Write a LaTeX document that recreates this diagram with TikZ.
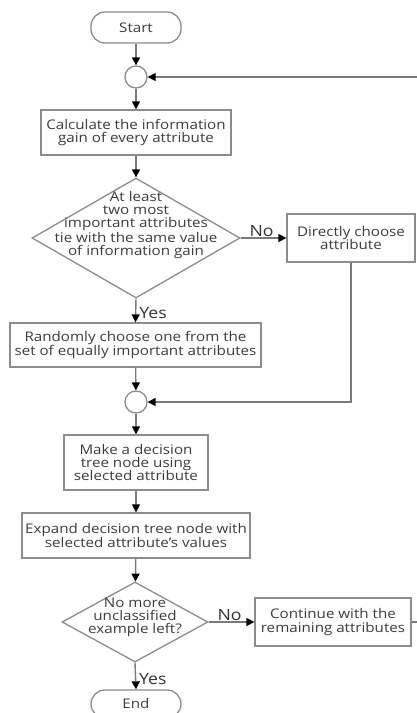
\documentclass[tikz,border=0pt]{standalone}
\usepackage{fontspec}
\setmainfont{Open Sans}[FakeStretch=1.14]
\usetikzlibrary{arrows.meta,shapes.geometric}
\definecolor{boxline}{HTML}{8C8C8C}
\definecolor{txt}{HTML}{3C3C3C}
\definecolor{conn}{HTML}{7A7A7A}
\tikzset{
  base/.style={draw=boxline, line width=1.3pt, text=txt, align=center, inner sep=1pt,
    font=\fontsize{13.3}{13.3}\selectfont},
  proc/.style={base, rectangle},
  term/.style={base, rectangle, rounded corners=14pt},
  junc/.style={base, circle, minimum size=22pt, inner sep=0pt},
  dec/.style={base, diamond, inner sep=0pt},
  dtext/.style={text=txt, align=center, inner sep=0pt, font=\fontsize{13.3}{13.1}\selectfont},
  lbl/.style={text=black!80, inner sep=0pt, font=\fontsize{15.5}{15.5}\selectfont},
  flow/.style={draw=conn, line width=1.4pt, -{Triangle[length=8pt,width=8pt,fill=black,color=black]}},
}
\begin{document}
\begin{tikzpicture}[x=1pt,y=-1pt]
\useasboundingbox (0,0) rectangle (416,713);
\fill[white] (0,0) rectangle (416,713);

\node[term, minimum width=90pt, minimum height=31pt] (start) at (136,27.5) {Start};
\node[junc] (c1) at (136,77) {};
\node[proc, minimum width=190pt, minimum height=45pt] (b1) at (136,132.5) {Calculate the information\\gain of every attribute};
\node[dec, minimum width=208pt, minimum height=120pt] (d1) at (136,238) {};
\node[dtext] (d1t) at (136,225) {At least\\two most\\important attributes\\tie with the same value\\of information gain};
\node[proc, minimum width=128pt, minimum height=48pt] (b2) at (351,238) {Directly choose\\attribute};
\node[proc, minimum width=251pt, minimum height=44pt] (b3) at (135.5,345) {Randomly choose one from the\\set of equally important attributes};
\node[junc] (c2) at (136,402) {};
\node[proc, minimum width=144pt, minimum height=55pt] (b4) at (136,462.5) {Make a decision\\tree node using\\selected attribute};
\node[proc, minimum width=228pt, minimum height=45pt] (b5) at (136,535.5) {Expand decision tree node with\\selected attribute's values};
\node[dec, minimum width=146pt, minimum height=80pt] (d2) at (135,622) {};
\node[dtext] (d2t) at (135,617) {No more\\unclassified\\example left?};
\node[proc, minimum width=156pt, minimum height=48pt] (b6) at (333,622) {Continue with the\\remaining attributes};
\node[term, minimum width=90pt, minimum height=28pt] (end) at (136,704) {End};

\coordinate (r1) at (422,622);
\coordinate (r2) at (422,77);

\draw[flow] (start) -- (c1);
\draw[flow] (c1) -- (b1);
\draw[flow] (b1) -- (d1);
\draw[flow] (d1.east) -- node[lbl, above, yshift=1pt, xshift=-2pt] (no1) {No} (b2.west);
\draw[flow] (d1.south) -- node[lbl, right, xshift=3pt, yshift=-3pt] (yes1) {Yes} (b3.north);
\draw[flow] (b3) -- (c2);
\draw[flow] (b2.south) -- (b2.south |- c2) -- (c2.east);
\draw[flow] (c2) -- (b4);
\draw[flow] (b4) -- (b5);
\draw[flow] (b5) -- (d2);
\draw[flow] (d2.east) -- node[lbl, above, yshift=1pt, xshift=-2pt] (no2) {No} (b6.west);
\draw[flow] (d2.south) -- node[lbl, right, xshift=3pt, yshift=-3pt] (yes2) {Yes} (end.north);
\draw[flow] (b6.east) -- (r1) -- (r2) -- (c1.east);
\end{tikzpicture}
\end{document}
